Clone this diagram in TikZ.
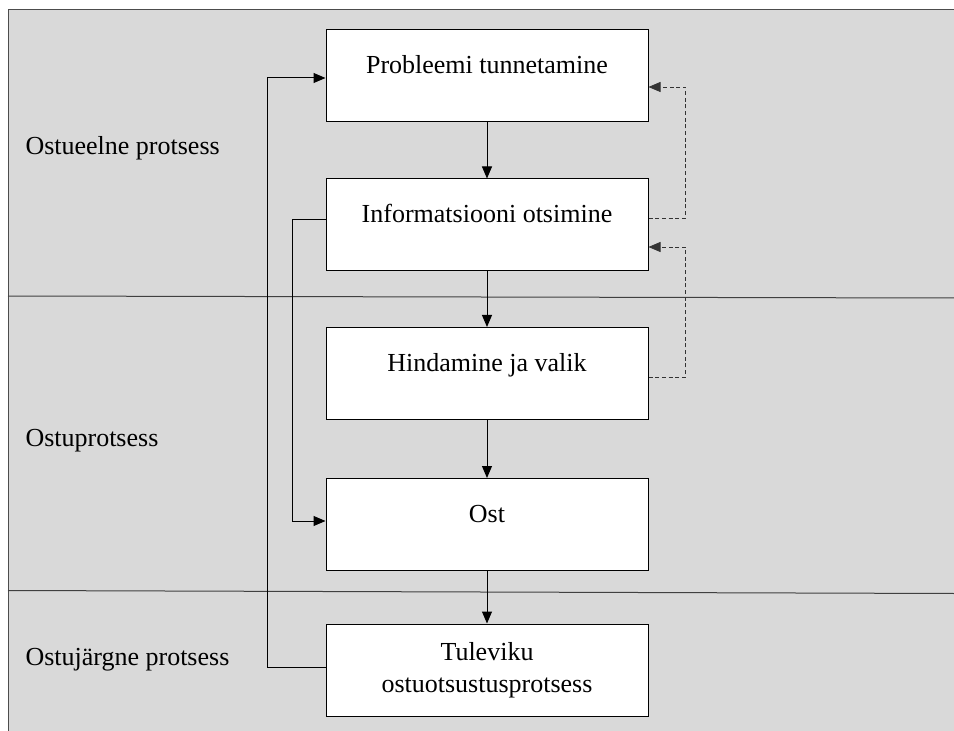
\documentclass[tikz,border=0pt]{standalone}
\usepackage{fontspec}
\setmainfont{Liberation Serif}
\usetikzlibrary{arrows.meta,calc}
\definecolor{bggray}{RGB}{217,217,217}
\tikzset{every picture/.style={line width=0.75pt}}
\tikzset{
  stepbox/.style={draw, fill=white, minimum width=241.5pt, minimum height=69pt, inner sep=0pt, text height=33pt, text depth=36pt, font=\fontsize{19.5}{24}\selectfont},
  lastbox/.style={draw, fill=white, minimum width=241.5pt, minimum height=69pt, inner sep=0pt, align=center, font=\fontsize{19.5}{24}\selectfont},
  phase/.style={anchor=base west, inner sep=0pt, font=\fontsize{19.5}{24}\selectfont},
  flow/.style={-{Triangle[length=9pt,width=7.5pt]}},
  backflow/.style={-{Triangle[length=9pt,width=7.5pt]}, draw=black!80, line width=0.6pt, dash pattern=on 3pt off 2pt}
}

\begin{document}
\begin{tikzpicture}[x=0.75pt,y=0.75pt,yscale=-1,xscale=1]
\useasboundingbox (0,0) rectangle (954,731);

%Shape: Rectangle (background)
\draw [fill=bggray, draw=black!70] (8,10) rectangle (980,760);
%Straight Lines (phase borders)
\draw [draw=black!75] (8,296) -- (954,298);
\draw [draw=black!75] (8,590.5) -- (954,593.5);

% Boxes
\node [stepbox] (probl) at (487,76) {Probleemi tunnetamine};
\node [stepbox] (info) at (487,225) {Informatsiooni otsimine};
\node [stepbox] (hind) at (487,373.5) {Hindamine ja valik};
\node [stepbox] (ost) at (487,524.5) {Ost};
\node [lastbox] (tulev) at (487,670) {Tuleviku\\ostuotsustusprotsess};

% Text Node
\node [phase] (eelne) at (25,155) {Ostueelne protsess};
% Text Node
\node [phase] (ostu) at (25,446) {Ostuprotsess};
% Text Node
\node [phase] (jargne) at (25,665) {Ostujärgne protsess};

%Arrows down
\draw [flow] (probl) -- (info);
\draw [flow] (info) -- (hind);
\draw [flow] (hind) -- (ost);
\draw [flow] (ost) -- (tulev);
%Arrows on the left
\draw [flow] ($(tulev.west)+(0,-3)$) -- ++(-58,0) |- ($(probl.west)+(0,2)$);
\draw [flow] ($(info.west)+(0,-5)$) -- ++(-33,0) |- ($(ost.west)+(0,-3.5)$);
%Dashed arrows on the right
\draw [backflow] ($(info.east)+(0,-7)$) -- ++(37,0) |- ($(probl.east)+(0,11)$);
\draw [backflow] ($(hind.east)+(0,3.5)$) -- ++(37,0) |- ($(info.east)+(0,22)$);

\end{tikzpicture}
\end{document}
